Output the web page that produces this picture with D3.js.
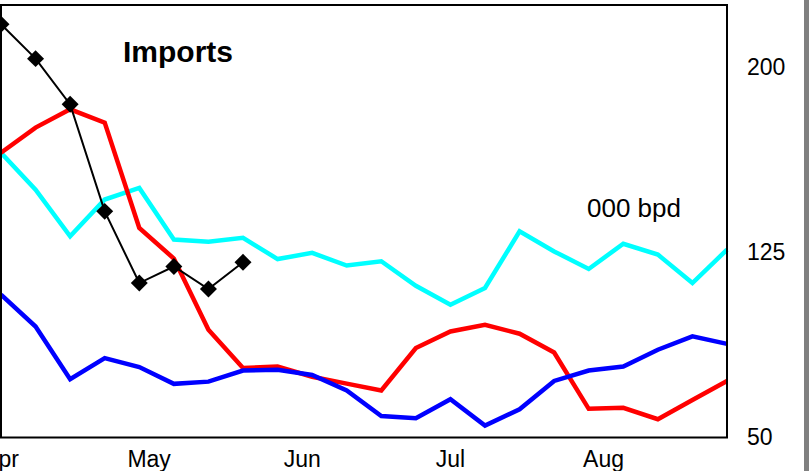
<!DOCTYPE html>
<html>
<head>
<meta charset="utf-8">
<script src="https://cdn.jsdelivr.net/npm/d3@7"></script>
<style>
	body { margin: 0; background: #ffffff; }
	svg { display: block; font-family: "Liberation Sans", Arial, sans-serif; }
</style>
</head>
<body>
<svg id="chart" width="809" height="471"></svg>
<script>
// @ Data (weekly imports, 000 bpd)
const weeks = [
	"2005-04-01", "2005-04-08", "2005-04-15", "2005-04-22", "2005-04-29",
	"2005-05-06", "2005-05-13", "2005-05-20", "2005-05-27",
	"2005-06-03", "2005-06-10", "2005-06-17", "2005-06-24",
	"2005-07-01", "2005-07-08", "2005-07-15", "2005-07-22", "2005-07-29",
	"2005-08-05", "2005-08-12", "2005-08-19", "2005-08-26",
];
const cyanValues = [
	165.2, 150.3, 131.4, 146.3, 151.0, 130.1, 129.2, 130.8, 122.2, 124.7, 119.6,
	121.3, 111.4, 103.7, 110.5, 133.4, 125.3, 118.2, 128.4, 124.0, 112.5, 126.0,
];
const redValues = [
	165.2, 175.4, 182.8, 177.4, 134.8, 122.4, 93.6, 78.1, 78.7, 74.6, 71.8,
	69.0, 86.2, 92.9, 95.6, 92.0, 84.4, 61.6, 62.0, 57.4, 65.2, 72.9,
];
const blueValues = [
	107.8, 94.9, 73.6, 82.1, 78.5, 71.7, 72.6, 77.1, 77.4, 75.3, 69.0,
	58.7, 57.8, 65.5, 54.8, 61.4, 72.9, 77.1, 78.7, 85.5, 90.9, 87.9,
];
// current year, only the first weeks are in
const blackValues = [217.2, 203.3, 184.8, 141.5, 112.5, 119.2, 110.1, 120.9];

const yTicks = [50, 125, 200];
const title = "Imports";
const unitLabel = "000 bpd";

// @ Layout
const plotLeft = 1;
const plotRight = 727;
const plotTop = 5;
const plotBottom = 437.5;

const parse = d3.timeParse("%Y-%m-%d");
const dates = weeks.map(parse);

const x = d3.scaleTime().domain(d3.extent(dates)).range([plotLeft, plotRight]);
const y = d3.scaleLinear().domain([50, 225]).range([plotBottom, plotTop]);

const svg = d3.select("#chart");

svg.append("rect")
	.attr("width", 809)
	.attr("height", 471)
	.attr("fill", "#ffffff");

// grey strip on the right edge
svg.append("rect")
	.attr("x", 804)
	.attr("y", 0)
	.attr("width", 5)
	.attr("height", 471)
	.attr("fill", "#808080");

// @ Lines
const line = d3
	.line()
	.x((d) => x(d.date))
	.y((d) => y(d.value));

const toPoints = (values) =>
	values.map((v, i) => ({ date: dates[i], value: v }));

const series = [
	{ values: cyanValues, color: "#00ffff" },
	{ values: redValues, color: "#ff0000" },
	{ values: blueValues, color: "#0000ff" },
];

svg.append("g")
	.selectAll("path")
	.data(series)
	.enter()
	.append("path")
	.attr("d", (d) => line(toPoints(d.values)))
	.attr("fill", "none")
	.attr("stroke", (d) => d.color)
	.attr("stroke-width", 4.5)
	.attr("stroke-linejoin", "miter");

const blackPoints = toPoints(blackValues);

svg.append("path")
	.attr("d", line(blackPoints))
	.attr("fill", "none")
	.attr("stroke", "#000000")
	.attr("stroke-width", 2);

svg.append("g")
	.selectAll("path")
	.data(blackPoints)
	.enter()
	.append("path")
	.attr("d", d3.symbol(d3.symbolSquare, 144))
	.attr("transform", (d) => `translate(${x(d.date)},${y(d.value)})rotate(45)`)
	.attr("fill", "#000000");

// @ Frame
svg.append("rect")
	.attr("x", plotLeft)
	.attr("y", plotTop)
	.attr("width", plotRight - plotLeft)
	.attr("height", plotBottom - plotTop)
	.attr("fill", "none")
	.attr("stroke", "#000000")
	.attr("stroke-width", 2);

// @ Axes
const yAxis = svg
	.append("g")
	.attr("transform", `translate(${plotRight},0)`)
	.call(d3.axisRight(y).tickValues(yTicks).tickSize(0).tickPadding(20));
yAxis.select(".domain").remove();
yAxis.selectAll("text")
	.attr("fill", "#000000")
	.style("font-family", "Liberation Sans, Arial, sans-serif")
	.style("font-size", "23px");

const months = d3.timeMonth.range(new Date(2005, 3, 1), new Date(2005, 8, 1));
svg.append("g")
	.selectAll("text")
	.data(months)
	.enter()
	.append("text")
	.attr("x", (d) => x(d))
	.attr("y", 467)
	.attr("text-anchor", "middle")
	.style("font-size", "23px")
	.text(d3.timeFormat("%b"));

// @ Labels
svg.append("text")
	.attr("x", 123)
	.attr("y", 62)
	.style("font-size", "30px")
	.style("font-weight", "bold")
	.text(title);

svg.append("text")
	.attr("x", 587)
	.attr("y", 217)
	.style("font-size", "26px")
	.text(unitLabel);
</script>
</body>
</html>
